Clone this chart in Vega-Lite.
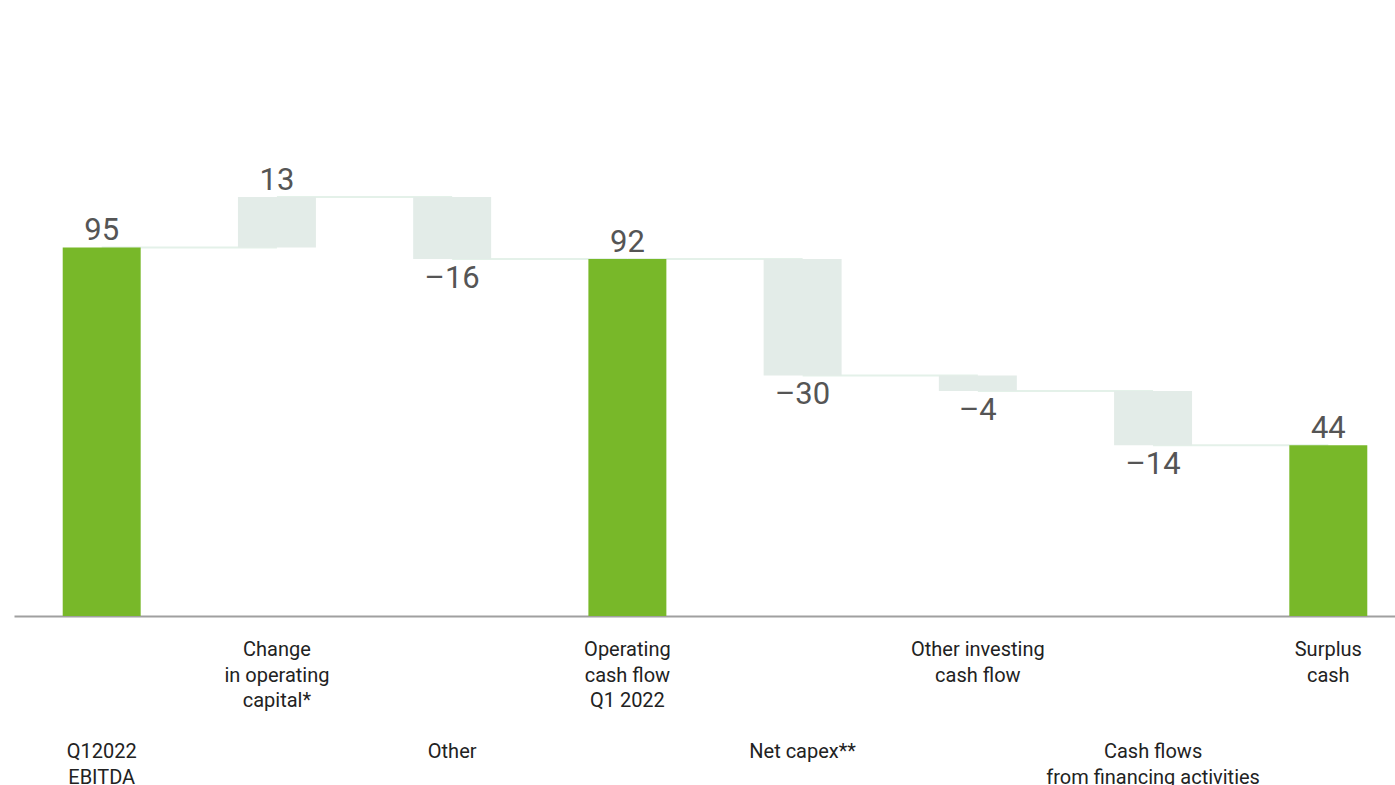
{
  "$schema": "https://vega.github.io/schema/vega-lite/v6.json",
  "width": 1381,
  "height": 582,
  "autosize": {"type": "none"},
  "padding": {"left": 14, "top": 34, "right": 0, "bottom": 169},
  "background": "white",
  "config": {"view": {"stroke": null}, "font": "Roboto"},
  "datasets": {
    "flows": [
      {"cat": "Q12022\nEBITDA", "start": 0, "end": 95, "label": "95", "kind": "total", "row": "lower", "next": "Change\nin operating\ncapital*"},
      {"cat": "Change\nin operating\ncapital*", "start": 95, "end": 108, "label": "13", "kind": "delta", "row": "upper", "next": "Other"},
      {"cat": "Other", "start": 108, "end": 92, "label": "–16", "kind": "delta", "row": "lower", "next": "Operating\ncash flow\nQ1 2022"},
      {"cat": "Operating\ncash flow\nQ1 2022", "start": 0, "end": 92, "label": "92", "kind": "total", "row": "upper", "next": "Net capex**"},
      {"cat": "Net capex**", "start": 92, "end": 62, "label": "–30", "kind": "delta", "row": "lower", "next": "Other investing\ncash flow"},
      {"cat": "Other investing\ncash flow", "start": 62, "end": 58, "label": "–4", "kind": "delta", "row": "upper", "next": "Cash flows\nfrom financing activities"},
      {"cat": "Cash flows\nfrom financing activities", "start": 58, "end": 44, "label": "–14", "kind": "delta", "row": "lower", "next": "Surplus\ncash"},
      {"cat": "Surplus\ncash", "start": 0, "end": 44, "label": "44", "kind": "total", "row": "upper", "next": null}
    ]
  },
  "data": {"name": "flows"},
  "encoding": {
    "x": {
      "field": "cat",
      "type": "nominal",
      "scale": {
        "domain": ["Q12022\nEBITDA", "Change\nin operating\ncapital*", "Other", "Operating\ncash flow\nQ1 2022", "Net capex**", "Other investing\ncash flow", "Cash flows\nfrom financing activities", "Surplus\ncash"],
        "range": [0, 1402],
        "paddingInner": 0.555,
        "paddingOuter": 0.278
      },
      "axis": {
        "title": null,
        "ticks": false,
        "grid": false,
        "labels": false,
        "domainColor": "#a0a0a0",
        "domainWidth": 2
      }
    }
  },
  "layer": [
    {
      "transform": [{"filter": "datum.next != null"}],
      "mark": {"type": "rule", "color": "#e4f1e9", "strokeWidth": 2},
      "encoding": {
        "x2": {"field": "next"},
        "y": {"field": "end", "type": "quantitative", "scale": {"domain": [0, 150], "nice": false}, "axis": null}
      }
    },
    {
      "mark": {"type": "bar"},
      "encoding": {
        "y": {"field": "start", "type": "quantitative", "scale": {"domain": [0, 150], "nice": false}, "axis": null},
        "y2": {"field": "end"},
        "color": {"field": "kind", "type": "nominal", "scale": {"domain": ["total", "delta"], "range": ["#78b829", "#e3ece8"]}, "legend": null}
      }
    },
    {
      "transform": [{"filter": "datum.end >= datum.start"}],
      "mark": {"type": "text", "baseline": "alphabetic", "dy": -7, "fontSize": 31, "color": "#555555"},
      "encoding": {
        "y": {"field": "end", "type": "quantitative"},
        "text": {"field": "label"}
      }
    },
    {
      "transform": [{"filter": "datum.end < datum.start"}],
      "mark": {"type": "text", "baseline": "top", "dy": 5, "fontSize": 31, "color": "#555555"},
      "encoding": {
        "y": {"field": "end", "type": "quantitative"},
        "text": {"field": "label"}
      }
    },
    {
      "transform": [{"filter": "datum.row == 'upper'"}],
      "mark": {"type": "text", "baseline": "top", "fontSize": 20, "color": "#222222", "lineBreak": "\n", "lineHeight": 25.5},
      "encoding": {
        "y": {"datum": -6.2, "type": "quantitative"},
        "text": {"field": "cat"}
      }
    },
    {
      "transform": [{"filter": "datum.row == 'lower'"}],
      "mark": {"type": "text", "baseline": "top", "fontSize": 20, "color": "#222222", "lineBreak": "\n", "lineHeight": 25.5},
      "encoding": {
        "y": {"datum": -32.5, "type": "quantitative"},
        "text": {"field": "cat"}
      }
    }
  ]
}
